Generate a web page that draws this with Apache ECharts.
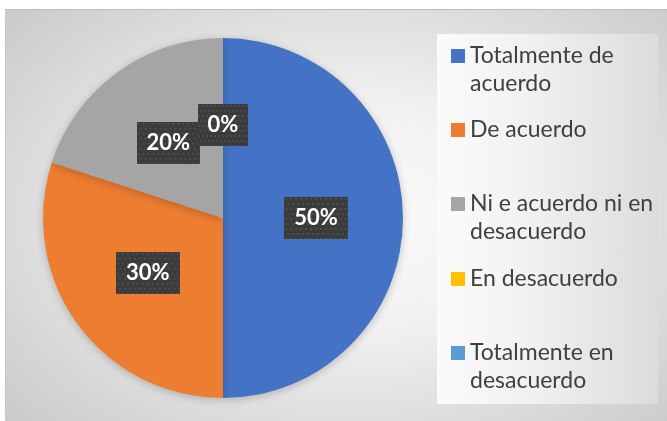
<!DOCTYPE html>
<html>
<head>
<meta charset="utf-8">
<script src="https://cdn.jsdelivr.net/npm/echarts@6/dist/echarts.min.js"></script>
<style>
  html, body { margin: 0; padding: 0; background: #fff; }
  #wrap { position: relative; width: 667px; height: 421px; overflow: hidden; }
  #bg {
    position: absolute; left: 5px; top: 9px; right: 0; bottom: 0;
    border-top: 1px solid #bdbdbd; border-left: 1px solid #c8c8c8;
    background: radial-gradient(ellipse 75% 80% at 52% 50%, #fbfbfb 0%, #f1f1f1 35%, #d6d6d6 75%, #c6c6c6 100%);
  }
  #legbox {
    position: absolute; left: 437px; top: 34px; width: 221px; height: 370px;
    background: linear-gradient(to right, #fbfbfb 0%, #f0f0f0 45%, #dcdcdc 100%);
  }
  #main { position: absolute; left: 0; top: 0; width: 667px; height: 421px; }
</style>
</head>
<body>
<div id="wrap">
  <div id="bg"></div>
  <div id="legbox"></div>
  <div id="main"></div>
</div>
<script>
const categories = ['Totalmente de acuerdo', 'De acuerdo', 'Ni e acuerdo ni en desacuerdo', 'En desacuerdo', 'Totalmente en desacuerdo'];
const values = [50, 30, 20, 0, 0];
const colors = ['#4472C4', '#ED7D31', '#A5A5A5', '#FFC000', '#5B9BD5'];
const legendTops = [9, 111, 157, 260, 306];
const legendLines = [2, 1, 2, 1, 2];

// dotted dark texture for the data labels
function makePattern() {
    const c = document.createElement('canvas');
    c.width = 64; c.height = 42;
    const ctx = c.getContext('2d');
    ctx.fillStyle = '#3b3b3b';
    ctx.fillRect(0, 0, 64, 42);
    ctx.fillStyle = '#4e4e4e';
    for (let y = 1; y < 42; y += 5) {
        for (let x = (y % 2) ? 1 : 3; x < 64; x += 5) {
            ctx.fillRect(x, y, 2, 2);
        }
    }
    return c;
}
const pattern = makePattern();

const chart = echarts.init(document.getElementById('main'), null, { renderer: 'canvas' });
const LH = 28;

// one legend per entry so the spacing matches; two-line entries get a blank
// leading line so the marker sits next to the first line
const legends = categories.map((name, i) => ({
    data: [name],
    left: 446,
    top: legendTops[i],
    orient: 'vertical',
    selectedMode: false,
    itemWidth: 14,
    itemHeight: 14,
    icon: 'rect',
    formatter: n => (legendLines[i] === 2 ? '\n' : '') + n,
    textStyle: {
        fontFamily: 'Lato',
        fontSize: 23,
        color: '#404040',
        lineHeight: LH,
        width: 196,
        overflow: 'break'
    }
}));

chart.setOption({
    backgroundColor: 'transparent',
    animation: false,
    color: colors,
    legend: legends,
    series: [{
        type: 'pie',
        center: [223, 218],
        radius: [0, 180],
        startAngle: 90,
        clockwise: true,
        avoidLabelOverlap: false,
        labelLayout: { hideOverlap: false },
        itemStyle: { borderWidth: 0, shadowBlur: 8, shadowColor: 'rgba(0,0,0,0.22)', shadowOffsetY: 2 },
        label: {
            show: true,
            position: 'inside',
            formatter: p => p.value + '%',
            fontFamily: 'Lato',
            fontWeight: 'bold',
            fontSize: 22,
            lineHeight: 22,
            color: '#ffffff',
            backgroundColor: { image: pattern },
            padding: [10, 10, 10, 10],
            shadowBlur: 6,
            shadowOffsetX: 2,
            shadowOffsetY: 3,
            shadowColor: 'rgba(0,0,0,0.45)'
        },
        labelLine: { show: false },
        emphasis: { disabled: true },
        data: categories.map((name, i) => ({ name, value: values[i] }))
    }]
});
</script>
</body>
</html>
